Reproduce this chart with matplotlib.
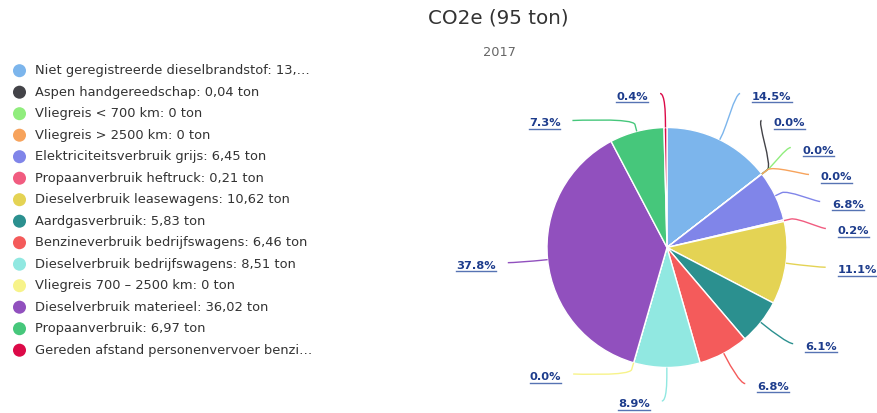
import numpy as np
import matplotlib
matplotlib.use("Agg")
import matplotlib.pyplot as plt
from matplotlib.path import Path
from matplotlib.patches import PathPatch

# ---------------- data ----------------
title = "CO2e (95 ton)"
subtitle = "2017"
legend_labels = [
    "Niet geregistreerde dieselbrandstof: 13,…",
    "Aspen handgereedschap: 0,04 ton",
    "Vliegreis < 700 km: 0 ton",
    "Vliegreis > 2500 km: 0 ton",
    "Elektriciteitsverbruik grijs: 6,45 ton",
    "Propaanverbruik heftruck: 0,21 ton",
    "Dieselverbruik leasewagens: 10,62 ton",
    "Aardgasverbruik: 5,83 ton",
    "Benzineverbruik bedrijfswagens: 6,46 ton",
    "Dieselverbruik bedrijfswagens: 8,51 ton",
    "Vliegreis 700 – 2500 km: 0 ton",
    "Dieselverbruik materieel: 36,02 ton",
    "Propaanverbruik: 6,97 ton",
    "Gereden afstand personenvervoer benzi…",
]
values = [13.8, 0.04, 0, 0, 6.45, 0.21, 10.62, 5.83, 6.46, 8.51, 0, 36.02, 6.97, 0.38]
colors = ["#7cb5ec", "#434348", "#90ed7d", "#f7a35c", "#8085e9", "#f15c80",
          "#e4d354", "#2b908f", "#f45b5b", "#91e8e1", "#f7f38a", "#9150be",
          "#46c77b", "#dc0a48"]

# ---------------- layout ----------------
W, H = 877, 413
CX, CY, R = 667, 247.5, 120
LD, PAD, SP = 155, 17, 27
TOP, BOT = 96.5, 404
YOFF = 2.5
CONN_OFF = 7
LABEL_COLOR = "#1d3c8c"
UNDERLINE_COLOR = "#5673b3"

fig = plt.figure(figsize=(W / 100, H / 100), dpi=100)
ax = fig.add_axes([0, 0, 1, 1])
ax.pie(values, colors=colors, center=(CX, CY), radius=R, startangle=-90,
       counterclock=True, wedgeprops=dict(edgecolor="white", linewidth=1))
ax.set_xlim(0, W)
ax.set_ylim(H, 0)
ax.axis("off")

# titles
ax.text(498, 18, title, ha="center", va="center", fontsize=14.3,
        color="#333333", family="DejaVu Sans")
ax.text(499, 52, subtitle, ha="center", va="center", fontsize=9.3,
        color="#666666", family="DejaVu Sans")

# legend
ly0, lsp = 70.7, 21.5
ys = [ly0 + i * lsp for i in range(len(legend_labels))]
ax.scatter([19.5] * len(ys), ys, s=88, c=colors, edgecolors="none", zorder=3)
for y, lab in zip(ys, legend_labels):
    ax.text(35, y, lab, ha="left", va="center", fontsize=9.4,
            color="#333333", family="DejaVu Sans")

# data labels
vals = np.array(values, dtype=float)
total = vals.sum()
frac = vals / total
cum = np.cumsum(frac)
mid = (cum - frac / 2) * 2 * np.pi
natural = CY - LD * np.cos(mid)


def distribute(targets, sp, lo, hi):
    groups = [[i] for i in range(len(targets))]

    def gpos(g):
        p = np.mean([targets[i] - k * sp for k, i in enumerate(g)])
        p = min(max(p, lo), hi - (len(g) - 1) * sp)
        return p

    changed = True
    while changed:
        changed = False
        for j in range(len(groups) - 1):
            a, b = groups[j], groups[j + 1]
            if gpos(a) + len(a) * sp > gpos(b) + 1e-9:
                groups[j] = a + b
                del groups[j + 1]
                changed = True
                break
    out = [0.0] * len(targets)
    for g in groups:
        p = gpos(g)
        for k, i in enumerate(g):
            out[i] = p + k * sp
    return out


n = len(values)
right_idx = [i for i in range(n) if mid[i] < np.pi]
left_idx = [i for i in range(n) if mid[i] >= np.pi][::-1]

texts = []
for side, idxs in (("right", right_idx), ("left", left_idx)):
    targets = [natural[i] + YOFF for i in idxs]
    ypos = distribute(targets, SP, TOP, BOT)
    for i, y in zip(idxs, ypos):
        yuse = natural[i] if (y <= TOP + 2 or y >= BOT - 2) else y - YOFF
        dy = yuse - CY
        dx = np.sqrt(max(0.0, LD ** 2 - dy ** 2)) + PAD
        sgn = 1 if side == "right" else -1
        tx = CX + sgn * dx
        pct = f"{frac[i] * 100:.1f}%"
        t = ax.text(tx, y, pct, ha="left" if side == "right" else "right",
                    va="center", fontsize=8.2, fontweight="bold",
                    color=LABEL_COLOR, family="DejaVu Sans")
        texts.append(t)
        # connector
        th = mid[i]
        touch = (CX + R * np.sin(th), CY - R * np.cos(th))
        brk = (CX + (R + CONN_OFF) * np.sin(th), CY - (R + CONN_OFF) * np.cos(th))
        sx = tx - sgn * 12
        cy_ = y - 3
        c1 = (sx - sgn * 5, cy_)
        c2 = (2 * brk[0] - touch[0], 2 * brk[1] - touch[1])
        path = Path([(sx, cy_), c1, c2, brk, touch],
                    [Path.MOVETO, Path.CURVE4, Path.CURVE4, Path.CURVE4, Path.LINETO])
        ax.add_patch(PathPatch(path, facecolor="none", edgecolor=colors[i],
                               linewidth=1, zorder=1))

fig.canvas.draw()
for t in texts:
    bb = t.get_window_extent()
    yy = H - bb.y0 + 0.5
    ax.plot([bb.x0, bb.x1], [yy, yy], color=UNDERLINE_COLOR, linewidth=1)

fig.savefig("out.png", dpi=100, facecolor="white")
